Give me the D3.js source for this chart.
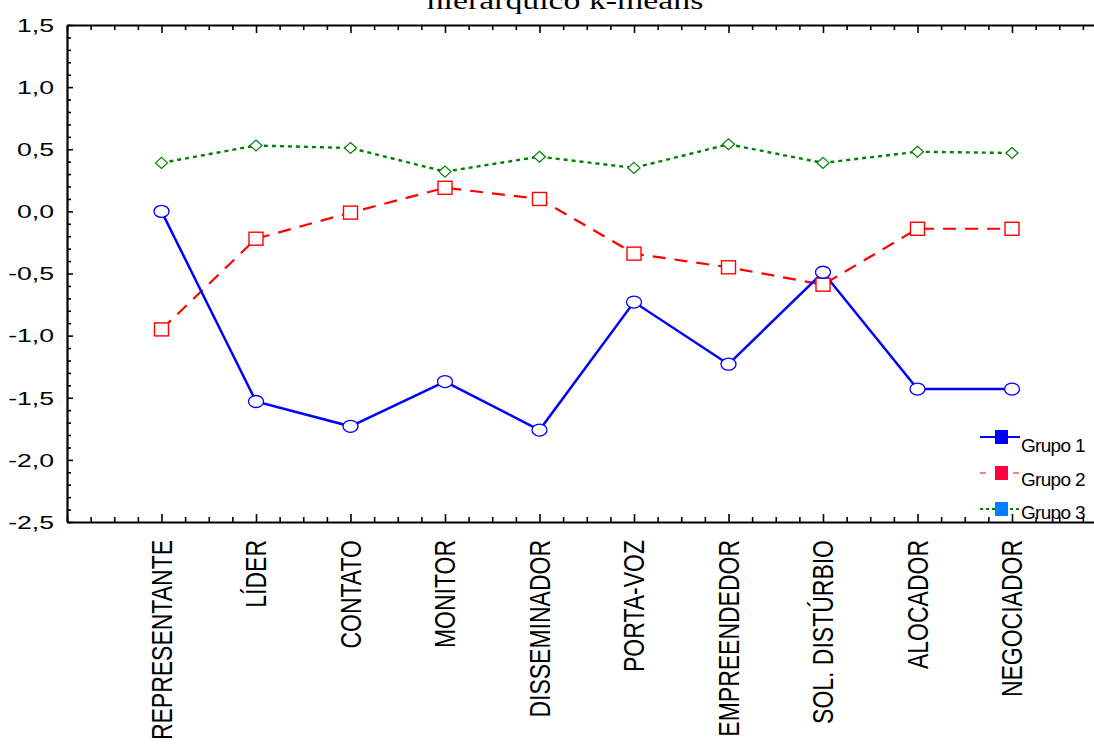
<!DOCTYPE html>
<html>
<head>
<meta charset="utf-8">
<script src="https://cdn.jsdelivr.net/npm/d3@7"></script>
<style>
  body { margin: 0; background: #fff; }
  svg { display: block; }
</style>
</head>
<body>
<svg id="chart" width="1094" height="749"></svg>
<script>
// categories (papéis gerenciais) and group means
const categorias = ["REPRESENTANTE", "LÍDER", "CONTATO", "MONITOR", "DISSEMINADOR",
                    "PORTA-VOZ", "EMPREENDEDOR", "SOL. DISTÚRBIO", "ALOCADOR", "NEGOCIADOR"];
const grupo1 = [0.00, -1.53, -1.73, -1.37, -1.76, -0.73, -1.23, -0.49, -1.43, -1.43];
const grupo2 = [-0.95, -0.22, -0.01, 0.19, 0.10, -0.34, -0.45, -0.59, -0.14, -0.14];
const grupo3 = [0.39, 0.53, 0.51, 0.32, 0.44, 0.35, 0.54, 0.39, 0.48, 0.47];
const nomes = ["Grupo 1", "Grupo 2", "Grupo 3"];
const yTicks = [1.5, 1.0, 0.5, 0.0, -0.5, -1.0, -1.5, -2.0, -2.5];
const titulo = "hierarquico k-means";

const svg = d3.select("#chart");
const padLeft = 67, padTop = 25, padBottom = 522, step = 94.5;

let x = d3.scaleLinear().domain([0, 11]).range([padLeft, padLeft + 11 * step]);
let y = d3.scaleLinear().domain([-2.5, 1.5]).range([padBottom, padTop]);

// title (only the second line is visible)
svg.append("text")
    .attr("transform", "translate(565,9) scale(1.3,1)")
    .attr("text-anchor", "middle")
    .style("font-family", "'Liberation Serif', 'Times New Roman', serif")
    .style("font-size", "26px")
    .text(titulo);

// axes with inward ticks
const minorX = d3.range(0, 11.01, 0.25);
function tickLen(v, major, minor) {
    return Math.abs(v - Math.round(v)) < 1e-6 ? major : minor;
}
let gTop = svg.append("g").attr("transform", "translate(0," + padTop + ")")
    .call(d3.axisBottom(x).tickValues(minorX).tickFormat("").tickSizeOuter(0));
gTop.selectAll(".tick line").attr("y2", d => tickLen(d, 8, 5));

let gBot = svg.append("g").attr("transform", "translate(0," + padBottom + ")")
    .call(d3.axisTop(x).tickValues(minorX).tickFormat("").tickSizeOuter(0));
gBot.selectAll(".tick line").attr("y2", d => -tickLen(d, 8, 5));

const minorY = d3.range(-25, 16).map(d => d / 10);
let gLeft = svg.append("g").attr("transform", "translate(" + padLeft + ",0)")
    .call(d3.axisRight(y).tickValues(minorY).tickFormat("").tickSizeOuter(0));
gLeft.selectAll(".tick line").attr("x2", d => Math.abs(d * 2 - Math.round(d * 2)) < 1e-6 ? 6 : 4);

svg.selectAll(".domain").attr("stroke", "#000").attr("stroke-width", 2.2);
svg.selectAll(".tick line").attr("stroke", "#000").attr("stroke-width", 1.6);

// y tick labels
svg.selectAll("text.ylab")
    .data(yTicks)
    .enter()
    .append("text")
    .attr("class", "ylab")
    .attr("transform", d => "translate(54," + y(d) + ") scale(1.4,1)")
    .attr("dy", "0.36em")
    .attr("text-anchor", "end")
    .style("font-family", "'Liberation Sans', Arial, sans-serif")
    .style("font-size", "19px")
    .text(d => d3.format(".1f")(d).replace(".", ",").replace("−", "-"));

// category labels, rotated
svg.selectAll("text.xlab")
    .data(categorias)
    .enter()
    .append("text")
    .attr("class", "xlab")
    .attr("transform", (d, i) => "translate(" + x(i + 1) + ",540) scale(1.25,1) rotate(-90)")
    .attr("dy", "0.36em")
    .attr("text-anchor", "end")
    .style("font-family", "'Liberation Sans', Arial, sans-serif")
    .style("font-size", "23px")
    .text(d => d);

// series
const series = [
    { nome: nomes[2], vals: grupo3, cor: "#008000", dash: "4,4", w: 2.4, marca: "diamond" },
    { nome: nomes[1], vals: grupo2, cor: "#ff0000", dash: "13,9", w: 2.2, marca: "square" },
    { nome: nomes[0], vals: grupo1, cor: "#0000ff", dash: null, w: 2.5, marca: "circle" }
];

let line = d3.line()
    .x((d, i) => x(i + 1))
    .y(d => y(d));

series.forEach(function(s) {
    svg.append("path")
        .datum(s.vals)
        .attr("d", line)
        .attr("fill", "none")
        .attr("stroke", s.cor)
        .attr("stroke-width", s.w)
        .attr("stroke-dasharray", s.dash);
});

series.forEach(function(s) {
    let g = svg.append("g");
    s.vals.forEach(function(v, i) {
        let cx = x(i + 1), cy = y(v);
        if (s.marca == "circle") {
            g.append("ellipse").attr("cx", cx).attr("cy", cy).attr("rx", 7.5).attr("ry", 6)
                .attr("fill", "#fff").attr("stroke", s.cor).attr("stroke-width", 1.3);
        } else if (s.marca == "square") {
            g.append("rect").attr("x", cx - 7).attr("y", cy - 6.5).attr("width", 14).attr("height", 13)
                .attr("fill", "#fff").attr("stroke", s.cor).attr("stroke-width", 1.4);
        } else {
            g.append("path")
                .attr("d", "M" + cx + "," + (cy - 5.5) + "L" + (cx + 6) + "," + cy + "L" + cx + "," + (cy + 5.5) + "L" + (cx - 6) + "," + cy + "Z")
                .attr("fill", "#fff").attr("stroke", s.cor).attr("stroke-width", 1.2);
        }
    });
});

// legend
const legenda = [
    { nome: nomes[0], cor: "#0000ff", caixa: "#0000ff", dash: null, w: 2.2 },
    { nome: nomes[1], cor: "#ff0000", caixa: "#ff0040", dash: "6,27", w: 1.2 },
    { nome: nomes[2], cor: "#008000", caixa: "#0080ff", dash: "3,3", w: 2 }
];
let ly = d3.scalePoint().domain(nomes).range([437, 509]);
let lt = d3.scalePoint().domain(nomes).range([452, 519]);
legenda.forEach(function(l) {
    let yy = ly(l.nome);
    svg.append("line").attr("x1", 980).attr("x2", 1020).attr("y1", yy).attr("y2", yy)
        .attr("stroke", l.cor).attr("stroke-width", l.w).attr("stroke-dasharray", l.dash);
    svg.append("rect").attr("x", 995).attr("y", yy - 7).attr("width", 13).attr("height", 14)
        .attr("fill", l.caixa);
    svg.append("text").attr("x", 1021).attr("y", lt(l.nome))
        .style("font-family", "'Liberation Sans', Arial, sans-serif")
        .style("font-size", "19px")
        .style("letter-spacing", "-0.7px")
        .text(l.nome);
});
</script>
</body>
</html>
